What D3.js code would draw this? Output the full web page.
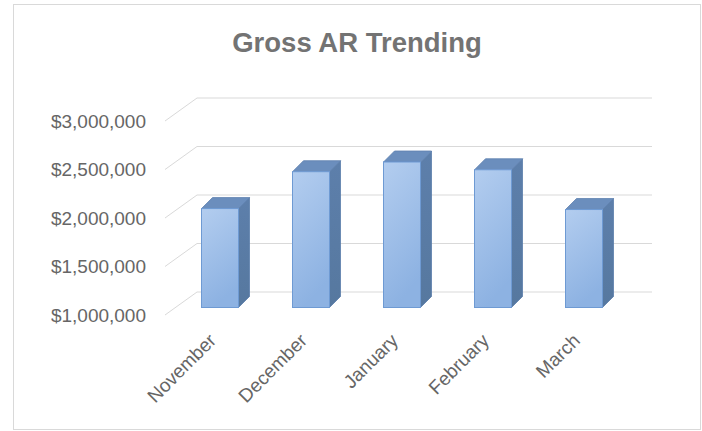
<!DOCTYPE html>
<html><head><meta charset="utf-8">
<script src="https://cdn.jsdelivr.net/npm/d3@7/dist/d3.min.js"></script>
<style>body{margin:0;background:#fff}svg{display:block}</style>
</head><body>
<svg id="c" width="702" height="431"></svg>
<script>
const categories = ["November","December","January","February","March"];
const values = [2020000, 2400000, 2500000, 2420000, 2010000];
const tickValues = [1000000,1500000,2000000,2500000,3000000];
const title = "Gross AR Trending";

const svg = d3.select("#c");
// 3D oblique geometry
const depth = {dx: 32, dy: -23};
const barDepthStart = {dx: 9.5, dy: -7.5};
const barDepth = {dx: 11, dy: -11};

const x = d3.scaleBand().domain(categories).range([165, 620]).paddingInner(0).paddingOuter(0);
const y = d3.scaleLinear().domain([1000000, 3000000]).range([315, 121]);

// frame
svg.append("rect").attr("x",13.5).attr("y",4.5).attr("width",687).attr("height",425)
  .attr("fill","#fff").attr("stroke","#d9d9d9").attr("stroke-width",1);

// title
svg.append("text").attr("x",357).attr("y",52).attr("text-anchor","middle")
  .attr("font-family","'Liberation Sans', Arial, sans-serif").attr("font-weight","bold")
  .attr("font-size",27.5).attr("fill","#737373").text(title);

// gridlines: side wall diagonal + back wall
const grid = svg.append("g").attr("stroke","#d9d9d9").attr("stroke-width",1).attr("fill","none");
tickValues.forEach(v => {
  const yf = y(v);
  grid.append("path").attr("d",
    `M${x.range()[0]},${yf}L${x.range()[0]+depth.dx},${yf+depth.dy}L${x.range()[1]+depth.dx},${yf+depth.dy}`);
});

// y tick labels
const fmt = d3.format("$,.0f");
svg.append("g").selectAll("text").data(tickValues).join("text")
  .attr("x",146).attr("y",d=>y(d)).attr("dy","0.35em").attr("text-anchor","end")
  .attr("font-family","'Liberation Sans', Arial, sans-serif").attr("font-size",19)
  .attr("fill","#666666").text(d=>fmt(d));

// gradients
const defs = svg.append("defs");
const g1 = defs.append("linearGradient").attr("id","front").attr("x1","0").attr("y1","0").attr("x2","0.3").attr("y2","1");
g1.append("stop").attr("offset","0%").attr("stop-color","#b3cdef");
g1.append("stop").attr("offset","100%").attr("stop-color","#8db2e2");
const g2 = defs.append("linearGradient").attr("id","side").attr("x1","0").attr("y1","0").attr("x2","0").attr("y2","1");
g2.append("stop").attr("offset","0%").attr("stop-color","#5d7fab");
g2.append("stop").attr("offset","100%").attr("stop-color","#56789f");

// bars
const bw = 37;
const bars = svg.append("g");
categories.forEach((c,i) => {
  const cx = x(c) + x.bandwidth()/2 + barDepthStart.dx;
  const x0 = cx - bw/2, x1 = cx + bw/2;
  const yb = y(1000000) + barDepthStart.dy;
  const yt = y(values[i]) + barDepthStart.dy;
  const dx = barDepth.dx, dy = barDepth.dy;
  const g = bars.append("g");
  g.append("path").attr("d",`M${x1},${yt}L${x1+dx},${yt+dy}L${x1+dx},${yb+dy}L${x1},${yb}Z`)
    .attr("fill","url(#side)").attr("stroke","#5a7eab").attr("stroke-width",0.8);
  g.append("path").attr("d",`M${x0},${yt}L${x0+dx},${yt+dy}L${x1+dx},${yt+dy}L${x1},${yt}Z`)
    .attr("fill","#6b8ebd").attr("stroke","#5f82b0").attr("stroke-width",0.8);
  g.append("rect").attr("x",x0).attr("y",yt).attr("width",bw).attr("height",yb-yt)
    .attr("fill","url(#front)").attr("stroke","#6e9ad3").attr("stroke-width",1);
});

// category labels
svg.append("g").selectAll("text").data(categories).join("text")
  .attr("transform",d=>`translate(${x(d)+x.bandwidth()/2+2},${337}) rotate(-45)`)
  .attr("text-anchor","end").attr("dy","0.35em")
  .attr("font-family","'Liberation Sans', Arial, sans-serif").attr("font-size",19)
  .attr("fill","#666666").text(d=>d);
</script>
</body></html>
